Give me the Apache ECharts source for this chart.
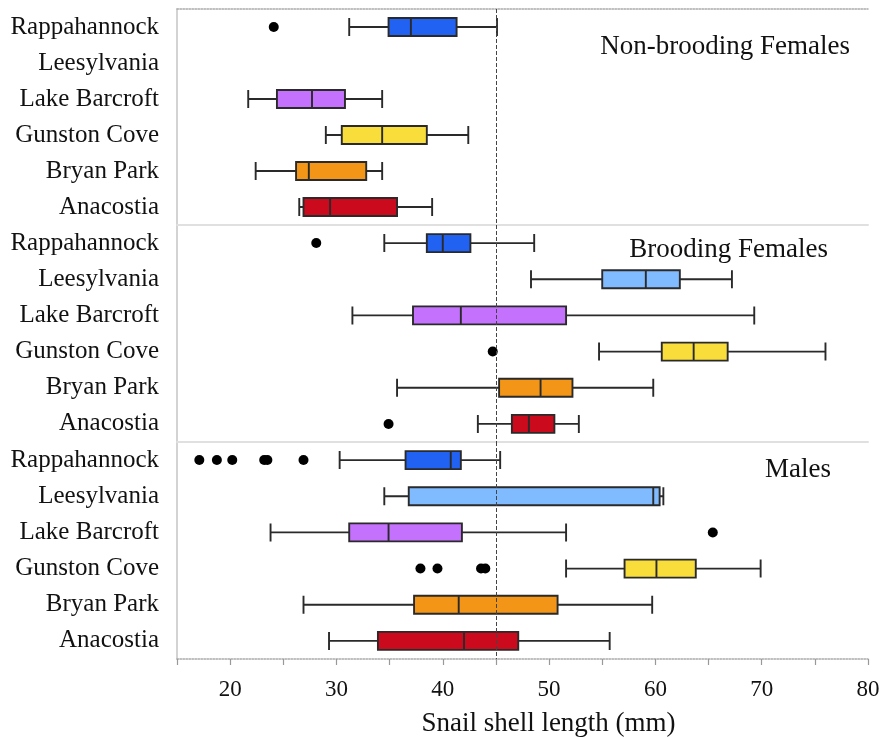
<!DOCTYPE html>
<html>
<head>
<meta charset="utf-8">
<script src="https://cdn.jsdelivr.net/npm/echarts@6/dist/echarts.min.js"></script>
<style>html,body{margin:0;padding:0;background:#fff;}#chart{width:890px;height:738px;}</style>
</head>
<body>
<div id="chart"></div>
<script>
// ---- data ----
const categories = ['Rappahannock', 'Leesylvania', 'Lake Barcroft', 'Gunston Cove', 'Bryan Park', 'Anacostia'];
const panelTitles = ['Non-brooding Females', 'Brooding Females', 'Males'];
const siteColors = ['#2262f2', '#80bbff', '#c472fd', '#f9dd3b', '#f39516', '#cb0a1e'];
// [min, Q1, median, Q3, max]
const nonBroodingStats = [
  [31.2, 34.9, 37.0, 41.3, 45.1],
  null,
  [21.7, 24.4, 27.7, 30.8, 34.3],
  [29.0, 30.5, 34.3, 38.5, 42.4],
  [22.4, 26.2, 27.4, 32.8, 34.3],
  [26.5, 26.9, 29.4, 35.7, 39.0]
];
const broodingStats = [
  [34.5, 38.5, 40.0, 42.6, 48.6],
  [48.3, 55.0, 59.1, 62.3, 67.2],
  [31.5, 37.2, 41.7, 51.6, 69.3],
  [54.7, 60.6, 63.6, 66.8, 76.0],
  [35.7, 45.3, 49.2, 52.2, 59.8],
  [43.3, 46.5, 48.1, 50.5, 52.8]
];
const maleStats = [
  [30.3, 36.5, 40.75, 41.7, 45.4],
  [34.5, 36.8, 59.8, 60.4, 60.75],
  [23.8, 31.2, 34.9, 41.8, 51.6],
  [51.6, 57.1, 60.1, 63.8, 69.9],
  [26.9, 37.3, 41.5, 50.8, 59.7],
  [29.3, 33.9, 42.0, 47.1, 55.7]
];
const nonBroodingOutliers = [[24.1, 'Rappahannock']];
const broodingOutliers = [[28.1, 'Rappahannock'], [44.7, 'Gunston Cove'], [34.9, 'Anacostia']];
const maleOutliers = [
  [17.1, 'Rappahannock'], [18.75, 'Rappahannock'], [20.2, 'Rappahannock'],
  [23.2, 'Rappahannock'], [23.5, 'Rappahannock'], [26.9, 'Rappahannock'],
  [65.4, 'Lake Barcroft'],
  [37.9, 'Gunston Cove'], [39.5, 'Gunston Cove'], [43.6, 'Gunston Cove'], [44.0, 'Gunston Cove']
];
const referenceLength = 45;
const xMin = 15, xMax = 80, xStep = 5;
const xTickLabels = ['20', '30', '40', '50', '60', '70', '80'];
const xTitle = 'Snail shell length (mm)';

// ---- chart ----
const serif = 'Liberation Serif';
const panels = [
  { stats: nonBroodingStats, outliers: nonBroodingOutliers },
  { stats: broodingStats, outliers: broodingOutliers },
  { stats: maleStats, outliers: maleOutliers }
];
const grids = [
  { left: 177, right: 22, top: 9, height: 216 },
  { left: 177, right: 22, top: 225, height: 217 },
  { left: 177, right: 22, top: 442, height: 219 }
];
const titlePos = [
  { right: 40, top: 33 },
  { right: 62, top: 236 },
  { right: 59, top: 456 }
];

const xAxes = panels.map((p, i) => ({
  gridIndex: i, type: 'value', min: xMin, max: xMax, interval: xStep,
  axisLine: { show: true, onZero: false, lineStyle: i < 2 ? { color: '#e0e0e0', width: 2 } : { color: '#aaa', width: 1.5, type: 'dotted' } },
  axisTick: { show: i === 2, length: 6, lineStyle: { color: '#999', width: 1.2 } },
  axisLabel: {
    show: i === 2, margin: 19, fontSize: 23, fontFamily: serif, color: '#111',
    formatter: v => (xTickLabels.indexOf(String(v)) >= 0 ? String(v) : '')
  },
  splitLine: { show: false },
  name: i === 2 ? xTitle : '', nameLocation: 'middle', nameGap: 51,
  nameTextStyle: { fontSize: 27, fontFamily: serif, color: '#111', padding: [0, 0, 0, 52] }
}));
xAxes.push({
  gridIndex: 0, type: 'value', position: 'top', min: xMin, max: xMax,
  axisLine: { show: true, onZero: false, lineStyle: { color: '#aaa', width: 1.5, type: 'dotted' } },
  axisTick: { show: false }, axisLabel: { show: false }, splitLine: { show: false }
});

const yAxes = panels.map((p, i) => ({
  gridIndex: i, type: 'category', inverse: true, data: categories,
  axisLine: { show: true, onZero: false, lineStyle: { color: '#c4c4c4', width: 1.5 } },
  axisTick: { show: false },
  axisLabel: { margin: 18, fontSize: 25, fontFamily: serif, color: '#111' },
  splitLine: { show: false }
}));

const series = [];
panels.forEach((p, i) => {
  series.push({
    type: 'boxplot', xAxisIndex: i, yAxisIndex: i,
    boxWidth: [18, 18],
    itemStyle: { borderColor: '#2a2a2a', borderWidth: 1.9 },
    data: p.stats.map((s, k) => s ? { value: s, itemStyle: { color: siteColors[k], borderColor: '#2a2a2a' } } : { value: ['-', '-', '-', '-', '-'] })
  });
  series.push({
    type: 'scatter', xAxisIndex: i, yAxisIndex: i,
    symbolSize: 10, itemStyle: { color: '#000', opacity: 1 },
    data: p.outliers,
    markLine: {
      silent: true, symbol: 'none', label: { show: false },
      lineStyle: { color: '#444', type: 'dashed', width: 1 },
      data: [{ xAxis: referenceLength }]
    }
  });
});

const chart = echarts.init(document.getElementById('chart'));
chart.setOption({
  animation: false,
  backgroundColor: '#fff',
  title: panelTitles.map((t, i) => Object.assign({
    text: t, padding: 0,
    textStyle: { fontSize: 27, fontFamily: serif, fontWeight: 'normal', color: '#111' }
  }, titlePos[i])),
  grid: grids,
  xAxis: xAxes,
  yAxis: yAxes,
  series: series
});
</script>
</body>
</html>
